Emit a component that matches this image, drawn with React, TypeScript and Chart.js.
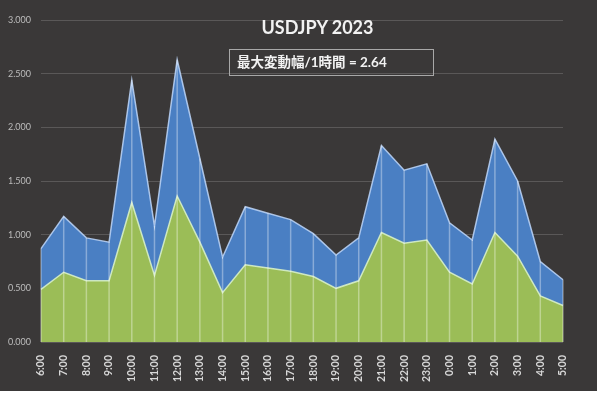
import React, { useEffect, useRef } from "react";
import { Chart, registerables } from "chart.js";

Chart.register(...registerables);

const categories = [
  "6:00", "7:00", "8:00", "9:00", "10:00", "11:00", "12:00", "13:00", "14:00", "15:00", "16:00", "17:00",
  "18:00", "19:00", "20:00", "21:00", "22:00", "23:00", "0:00", "1:00", "2:00", "3:00", "4:00", "5:00",
];
const maxRange = [
  0.87, 1.17, 0.97, 0.93, 2.44, 1.08, 2.63, 1.71, 0.79, 1.26, 1.2, 1.14,
  1.01, 0.81, 0.97, 1.83, 1.6, 1.66, 1.11, 0.95, 1.89, 1.5, 0.75, 0.58,
];
const avgRange = [
  0.49, 0.65, 0.57, 0.57, 1.3, 0.62, 1.36, 0.93, 0.46, 0.72, 0.69, 0.66,
  0.61, 0.5, 0.57, 1.02, 0.92, 0.95, 0.65, 0.54, 1.02, 0.8, 0.43, 0.34,
];
const yTicks = [0, 0.5, 1, 1.5, 2, 2.5, 3];
const titleText = "USDJPY 2023";
const boxText = "最大変動幅/1時間 = 2.64";

const dropLines = {
  id: "dropLines",
  afterDatasetsDraw(chart: any) {
    const meta = chart.getDatasetMeta(0);
    const yScale = chart.scales.y;
    const ctx = chart.ctx;
    ctx.save();
    ctx.strokeStyle = "rgba(255,255,255,0.35)";
    ctx.lineWidth = 1.5;
    meta.data.forEach((pt: any) => {
      ctx.beginPath();
      ctx.moveTo(pt.x, pt.y);
      ctx.lineTo(pt.x, yScale.getPixelForValue(0));
      ctx.stroke();
    });
    ctx.restore();
  },
};

export default function App() {
  const ref = useRef<HTMLCanvasElement>(null);
  useEffect(() => {
    const chart = new Chart(ref.current!, {
      type: "line",
      data: {
        labels: categories,
        datasets: [
          {
            label: "max",
            data: maxRange,
            fill: "origin",
            backgroundColor: "#4a7fc3",
            borderColor: "rgba(190,215,250,0.85)",
            borderWidth: 1.5,
            pointRadius: 0,
            tension: 0,
            order: 1,
          },
          {
            label: "avg",
            data: avgRange,
            fill: "origin",
            backgroundColor: "#9bbd57",
            borderColor: "rgba(215,240,200,0.9)",
            borderWidth: 1.5,
            pointRadius: 0,
            tension: 0,
            order: 0,
          },
        ],
      },
      options: {
        animation: false,
        responsive: false,
        maintainAspectRatio: false,
        layout: { padding: { top: 20, right: 34, bottom: 0, left: 0 } },
        plugins: { legend: { display: false }, tooltip: { enabled: false }, title: { display: false } },
        scales: {
          x: {
            offset: false,
            grid: { display: false },
            border: { display: false },
            ticks: {
              color: "#d8d8d8",
              font: { family: "Lato, 'Open Sans', sans-serif", size: 10.5, weight: "bold" },
              maxRotation: 90,
              minRotation: 90,
              autoSkip: false,
              padding: 5,
            },
            afterFit(scale: any) {
              scale.height = 49;
            },
          },
          y: {
            min: 0,
            max: 3,
            afterBuildTicks(scale: any) {
              scale.ticks = yTicks.map((v) => ({ value: v }));
            },
            grid: { color: "#5a5858", lineWidth: 1, drawTicks: false },
            border: { display: false },
            ticks: {
              color: "#bdbdbd",
              font: { family: "Lato, 'Open Sans', sans-serif", size: 9 },
              padding: 10,
              callback: (v: any) => Number(v).toFixed(3),
            },
            afterFit(scale: any) {
              scale.width = 41;
            },
          },
        },
      },
      plugins: [dropLines],
    });
    return () => chart.destroy();
  }, []);

  return (
    <div style={{ position: "fixed", left: 0, top: 0, width: 600, height: 393, background: "#ffffff" }}>
      <div style={{ position: "absolute", left: 0, top: 0, width: 597, height: 391, background: "#3a3838" }}>
        <canvas ref={ref} width={597} height={391} style={{ display: "block" }} />
        <div
          style={{
            position: "absolute",
            left: 230,
            top: 15,
            width: 175,
            textAlign: "center",
            color: "#f2f2f2",
            fontFamily: "Lato, 'Open Sans', sans-serif",
            fontWeight: "bold",
            fontSize: 18,
            lineHeight: "24px",
          }}
        >
          {titleText}
        </div>
        <div
          style={{
            position: "absolute",
            left: 229,
            top: 49,
            width: 205,
            height: 27,
            border: "1px solid #a8a8a8",
            boxSizing: "border-box",
            color: "#f2f2f2",
            fontFamily: "Lato, 'Noto Sans CJK JP', sans-serif",
            fontWeight: "bold",
            fontSize: 13.5,
            lineHeight: "25px",
            paddingLeft: 7,
            whiteSpace: "nowrap",
          }}
        >
          {boxText}
        </div>
      </div>
    </div>
  );
}
